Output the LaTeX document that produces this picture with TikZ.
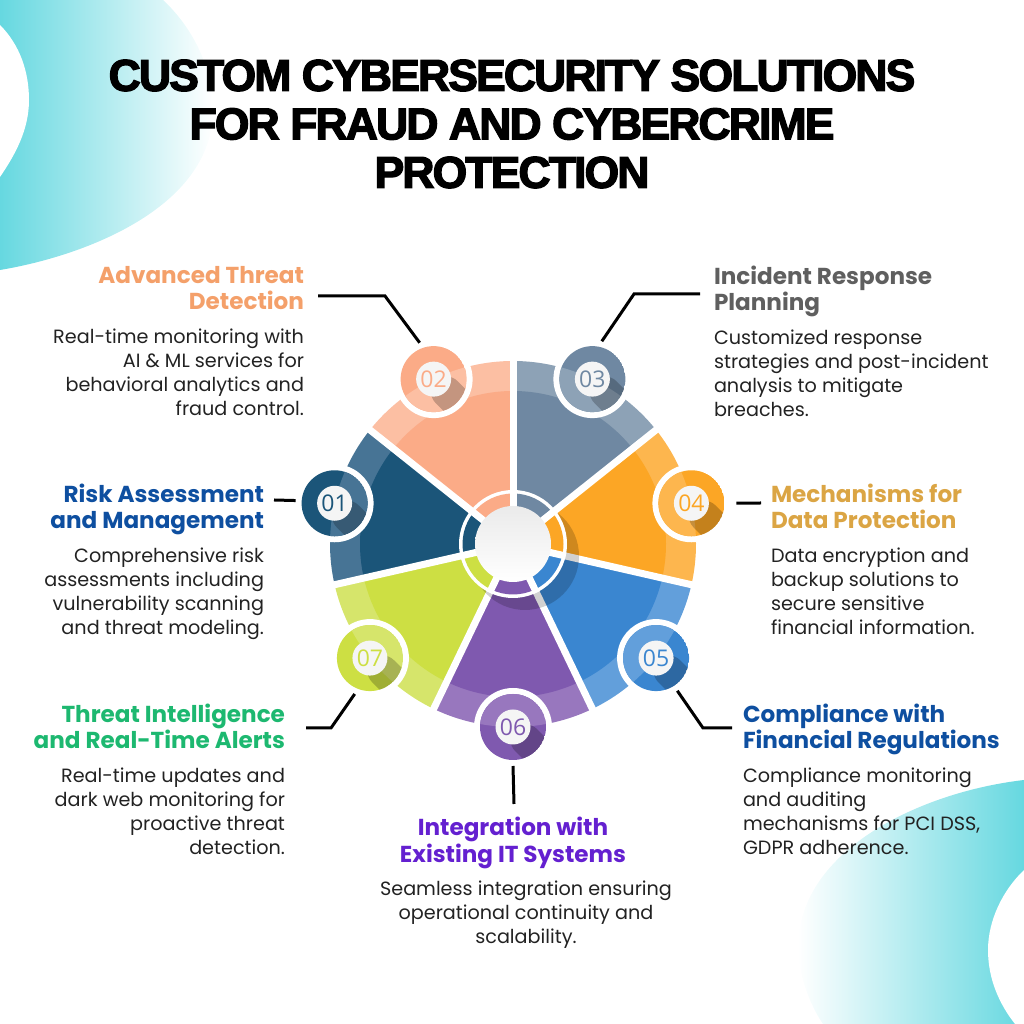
\documentclass[tikz,border=0pt]{standalone}
\usepackage{fontspec}
\setmainfont{Poppins}
\newfontfamily\numfont{Open Sans}
\newfontfamily\titlefont[LetterSpace=-4.2, BoldFeatures={FakeBold=3}]{Liberation Sans}
\usetikzlibrary{positioning}
\definecolor{blobcyan}{HTML}{66D8E0}
\definecolor{bodyink}{HTML}{222222}
\definecolor{base01}{HTML}{1B5579}
\definecolor{rim01}{HTML}{477495}
\definecolor{base02}{HTML}{FBAB87}
\definecolor{rim02}{HTML}{FCBFA3}
\definecolor{base03}{HTML}{6F88A2}
\definecolor{rim03}{HTML}{8DA2B6}
\definecolor{base04}{HTML}{FCA625}
\definecolor{rim04}{HTML}{FDB64E}
\definecolor{base05}{HTML}{3A86D0}
\definecolor{rim05}{HTML}{629FDB}
\definecolor{base06}{HTML}{7F59AF}
\definecolor{rim06}{HTML}{9877BE}
\definecolor{base07}{HTML}{CDDF43}
\definecolor{rim07}{HTML}{D6E56B}
\definecolor{headpeach}{HTML}{F4A06A}
\definecolor{headgrey}{HTML}{5F5F5F}
\definecolor{headblue}{HTML}{0E4FA0}
\definecolor{headgold}{HTML}{DBA544}
\definecolor{headgreen}{HTML}{1DB870}
\definecolor{headviolet}{HTML}{6420D0}
\tikzset {
  text block/.style = {
    inner sep = 0,
    outer sep = 0
  },
  % two line coloured heading
  head/.style = {
    text block,
    execute at end node = {\rule[-7pt]{0pt}{7pt}},
    font = \fontsize{23.1}{26.5}\selectfont\bfseries
  },
  headl/.style = {
    head,
    align = right,
    anchor = north east
  },
  headr/.style = {
    head,
    align = left,
    anchor = north west
  },
  % description under a heading
  blurb/.style = {
    text block,
    execute at begin node = {\rule{0pt}{15pt}},
    text = bodyink,
    font = \fontsize{19.2}{24}\selectfont
  },
  % white ring round a number disc
  discring/.style = {
    circle,
    fill = white,
    minimum size = 78pt,
    inner sep = 0,
    outer sep = 0
  },
  numdot/.style = {
    circle,
    fill = white!96!black,
    minimum size = 35pt,
    inner sep = 0,
    font = \numfont\fontsize{23}{23}\selectfont
  },
  gapline/.style = {
    draw = white,
    line width = 7pt
  },
  leader/.style = {
    draw = black,
    line width = 3pt
  }
}

\begin{document}
\begin{tikzpicture}[x=1pt, y=1pt]
    \useasboundingbox (0,0) rectangle (1024,1024);
    \coordinate (hub) at (513,480);

    % corner blobs
    \shade[left color=blobcyan, right color=white] (0,754) .. controls (90,769) and (213,819) .. (213,914) .. controls (213,959) and (190,999) .. (163,1024) -- (0,1024) -- cycle;
    \fill[white] (0,999) .. controls (20,979) and (29,952) .. (29,924) .. controls (29,894) and (15,869) .. (0,847) -- cycle;
    \shade[left color=white, right color=blobcyan] (1024,244) .. controls (920,232) and (800,174) .. (798,79) .. controls (798,49) and (810,19) .. (823,0) -- (1024,0) -- cycle;
    \fill[white] (1024,154) .. controls (1003,134) and (988,104) .. (988,74) .. controls (988,44) and (1000,19) .. (1015,0) -- (1024,0) -- cycle;

    \node[text block, align=center, font=\titlefont\fontsize{44.5}{48.5}\selectfont\bfseries] (title) at (512,900) {CUSTOM CYBERSECURITY SOLUTIONS\\FOR FRAUD AND CYBERCRIME\\PROTECTION};

    % wheel
    \foreach \n/\a in {01/167.14, 02/115.71, 03/64.29, 04/12.86, 05/-38.57, 06/-90, 07/-141.43} {
      \fill[rim\n] (hub) -- ++(\a+25.71:183pt) arc[start angle=\a+25.71, delta angle=-51.43, radius=183pt] -- cycle;
      \fill[base\n] (hub) -- ++(\a+25.71:153pt) arc[start angle=\a+25.71, delta angle=-51.43, radius=153pt] -- cycle;
    }
    \foreach \a in {90, 38.57, -12.86, -64.29, -115.71, -167.14, 141.43} {
      \draw[gapline] (hub) -- ++(\a:190pt);
    }
    \fill[black, opacity=.18] ([shift={(12,-12)}]hub) circle (54pt);
    \fill[white] (hub) circle (54pt);
    \foreach \n/\a in {01/167.14, 02/115.71, 03/64.29, 04/12.86, 05/-38.57, 06/-90, 07/-141.43} {
      \fill[base\n] (hub) -- ++(\a+25.71:50.5pt) arc[start angle=\a+25.71, delta angle=-51.43, radius=50.5pt] -- cycle;
    }
    \foreach \a in {90, 38.57, -12.86, -64.29, -115.71, -167.14, 141.43} {
      \draw[gapline] (hub) -- ++(\a:54pt);
    }
    \shade[top color=white!92!black, bottom color=white] (hub) circle (38pt);

    % number discs
    \foreach \n/\a in {01/167.14, 02/115.71, 03/64.29, 04/12.86, 05/-38.57, 06/-90, 07/-141.43} {
      \node[discring] (disc\n) at ([shift={(\a:183pt)}]hub) {};
      \begin{scope}
        \clip (disc\n) circle (33pt);
        \fill[base\n] (disc\n) circle (33pt);
        \fill[rim\n] (hub) circle (183pt);
        \draw[black, opacity=.22, line width=31pt, line cap=round] (disc\n) -- ++(13,-13);
      \end{scope}
      \node[numdot, text=base\n] (num\n) at (disc\n) {\n};
    }

    % left column
    \node[headl, text=headpeach] (threathead) at (304,758) {Advanced Threat\\Detection};
    \node[blurb, align=right, below=12pt of threathead.south east, anchor=north east] (threattext) {Real-time monitoring with\\AI \& ML services for\\behavioral analytics and\\fraud control.};
    \node[headl, text=headblue] (riskhead) at (264,540) {Risk Assessment\\and Management};
    \node[blurb, align=right, below=12pt of riskhead.south east, anchor=north east] (risktext) {Comprehensive risk\\assessments including\\vulnerability scanning\\and threat modeling.};
    \node[headl, text=headgreen] (intelhead) at (285,320) {Threat Intelligence\\and Real-Time Alerts};
    \node[blurb, align=right, below=12pt of intelhead.south east, anchor=north east] (inteltext) {Real-time updates and\\dark web monitoring for\\proactive threat\\detection.};

    % right column
    \node[headr, text=headgrey] (incidenthead) at (714,758) {Incident Response\\Planning};
    \node[blurb, align=left, below=12pt of incidenthead.south west, anchor=north west] (incidenttext) {Customized response\\strategies and post-incident\\analysis to mitigate\\breaches.};
    \node[headr, text=headgold] (datahead) at (771,540) {Mechanisms for\\Data Protection};
    \node[blurb, align=left, below=12pt of datahead.south west, anchor=north west] (datatext) {Data encryption and\\backup solutions to\\secure sensitive\\financial information.};
    \node[headr, text=headblue] (lawhead) at (743,320) {Compliance with\\Financial Regulations};
    \node[blurb, align=left, below=12pt of lawhead.south west, anchor=north west] (lawtext) {Compliance monitoring\\and auditing\\mechanisms for PCI DSS,\\GDPR adherence.};

    % bottom column
    \node[head, align=center, anchor=north, text=headviolet] (systemhead) at (513,207) {Integration with\\Existing IT Systems};
    \node[blurb, align=center, below=12pt of systemhead, xshift=13pt] (systemtext) {Seamless integration ensuring\\operational continuity and\\scalability.};

    % leaders
    \coordinate (b02) at (385,728);
    \coordinate (e02) at (318,728);
    \coordinate (b03) at (634,730);
    \coordinate (e03) at (700,730);
    \coordinate (e01) at (274,524);
    \coordinate (e04) at (761,521);
    \coordinate (b05) at (703,296);
    \coordinate (e05) at (732,296);
    \coordinate (b07) at (331,296);
    \coordinate (e07) at (306,296);
    \coordinate (e06) at (514,220);

    \draw[leader] (disc02.111) -- (b02) -- (e02);
    \draw[leader] (disc03.76) -- (b03) -- (e03);
    \draw[leader] (disc01.176) -- (e01);
    \draw[leader, shorten <=6pt] (disc04.0) -- (e04);
    \draw[leader] (disc05.-57) -- (b05) -- (e05);
    \draw[leader] (disc07.-113) -- (b07) -- (e07);
    \draw[leader] (disc06.-90) -- (e06);
\end{tikzpicture}
\end{document}
